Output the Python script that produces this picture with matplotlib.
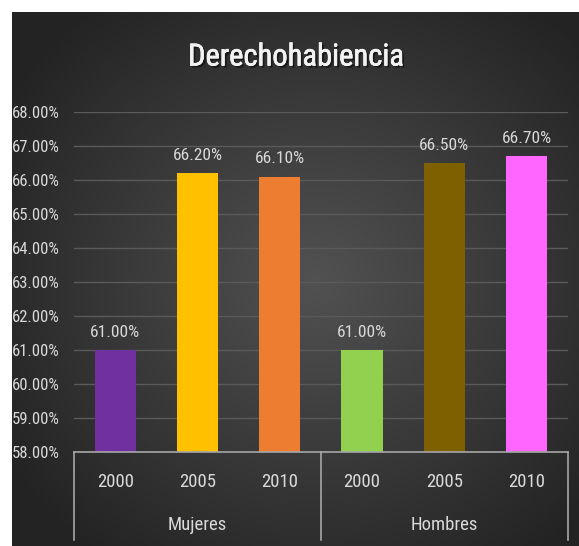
import numpy as np
import matplotlib
matplotlib.use("Agg")
import matplotlib.pyplot as plt
from matplotlib import font_manager
from matplotlib.lines import Line2D
import matplotlib.patheffects as pe

groups = ["Mujeres", "Hombres"]
years = ["2000", "2005", "2010", "2000", "2005", "2010"]
values = [61.0, 66.2, 66.1, 61.0, 66.5, 66.7]
colors = ["#7030A0", "#FFC000", "#ED7D31", "#92D050", "#7F6000", "#FF66FF"]
yticks = np.arange(58, 69, 1)

# look for a narrow face (Calibri-like look of the original)
files = [f.fname for f in font_manager.fontManager.ttflist]
files += font_manager.findSystemFonts()
pick = None
for key in ["LiberationSansNarrow-Regular", "RobotoCondensed-Regular", "Roboto_Condensed-Regular",
            "OpenSans_Condensed-Regular", "OpenSansCondensed", "NotoSans-Condensed.",
            "NotoSans-CondensedRegular", "DejaVuSansCondensed.ttf"]:
    hits = [p for p in files if key.lower() in p.lower()]
    if hits:
        pick = hits[0]
        break
if pick:
    fp = font_manager.FontProperties(fname=pick)
else:
    fp = font_manager.FontProperties(family="DejaVu Sans")

W, H = 579, 546
fig = plt.figure(figsize=(W/100, H/100), dpi=100, facecolor="white")

# dark radial background panel
bg = fig.add_axes([12/W, 0, 1 - 12/W, 1 - 12/H])
yy, xx = np.mgrid[0:300, 0:300]
r = np.hypot((xx - 160) / 170.0, (yy - 150) / 170.0)
shade = np.clip(0.32 - 0.16 * r, 0.14, 0.33)
bg.imshow(np.dstack([shade] * 3), aspect="auto", extent=[0, 1, 0, 1])
bg.set_axis_off()

ax = fig.add_axes([74/W, 1 - 452/H, (567.7 - 74)/W, (452 - 112)/H])
ax.patch.set_alpha(0)
x = np.arange(len(values))
ax.bar(x, [v - 58 for v in values], bottom=58, width=0.5, color=colors, zorder=3)
for xi, v in zip(x, values):
    ax.text(xi, v + 0.3, f"{v:.2f}%", ha="center", va="bottom", color="#d9d9d9",
            fontproperties=fp, fontsize=12.5)

ax.set_ylim(58, 68)
ax.set_xlim(-0.5, len(values) - 0.5)
ax.set_yticks(yticks)
ax.set_yticklabels([f"{t:.2f}%" for t in yticks], color="#d9d9d9", fontproperties=fp, fontsize=12)
ax.tick_params(axis="y", length=0, pad=10)
ax.set_xticks([])
ax.yaxis.grid(True, color="#5a5a5a", linewidth=1)
ax.set_axisbelow(True)
for s in ["top", "right", "left"]:
    ax.spines[s].set_visible(False)
ax.spines["bottom"].set_color("#a6a6a6")
ax.spines["bottom"].set_linewidth(1.2)
ax.spines["bottom"].set_zorder(4)

# multi-level category axis
for px in [74, 320.7, 567.7]:
    fig.add_artist(Line2D([px/W, px/W], [1 - 452/H, 1 - 540/H], color="#a6a6a6", linewidth=1.2))
for xi, yr in zip(x, years):
    ax.text(xi, -0.088, yr, transform=ax.get_xaxis_transform(), ha="center", va="center",
            color="#d9d9d9", fontproperties=fp, fontsize=13.5)
for gi, g in enumerate(groups):
    ax.text(gi * 3 + 1, -0.215, g, transform=ax.get_xaxis_transform(), ha="center", va="center",
            color="#d9d9d9", fontproperties=fp, fontsize=13.5)

fig.text(296/W, 1 - 57/H, "Derechohabiencia", ha="center", va="center", color="#f2f2f2",
         fontproperties=fp, fontsize=22,
         path_effects=[pe.withSimplePatchShadow(offset=(1.5, -1.5), shadow_rgbFace="black", alpha=0.5),
                       pe.withStroke(linewidth=0.4, foreground="#f2f2f2")])

fig.savefig("out.png", dpi=100, facecolor="white")
